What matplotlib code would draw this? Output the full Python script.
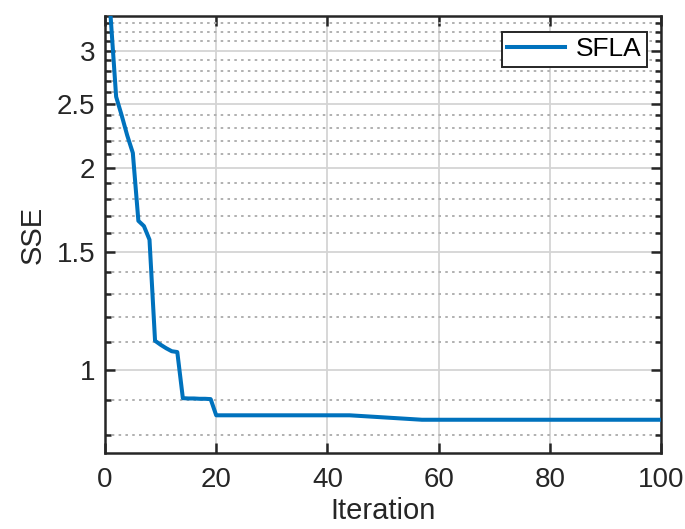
import matplotlib
matplotlib.use("Agg")
import matplotlib.pyplot as plt
from matplotlib.ticker import FixedLocator, FixedFormatter, NullFormatter

iterations = list(range(1, 101))
sse = [3.38, 2.56, 2.40, 2.24, 2.11, 1.67, 1.64, 1.565, 1.105, 1.09,
       1.077, 1.066, 1.063, 0.907, 0.906, 0.906, 0.905, 0.905, 0.904, 0.855,
       0.855, 0.855, 0.855, 0.855, 0.855, 0.855, 0.855, 0.855, 0.855, 0.855,
       0.855, 0.855, 0.855, 0.855, 0.855, 0.855, 0.855, 0.855, 0.855, 0.855,
       0.855, 0.855, 0.855, 0.855, 0.854, 0.853, 0.852, 0.851, 0.850, 0.849,
       0.848, 0.847, 0.846, 0.845, 0.844, 0.843, 0.842, 0.842, 0.842, 0.842,
       0.842, 0.842, 0.842, 0.842, 0.842, 0.842, 0.842, 0.842, 0.842, 0.842,
       0.842, 0.842, 0.842, 0.842, 0.842, 0.842, 0.842, 0.842, 0.842, 0.842,
       0.842, 0.842, 0.842, 0.842, 0.842, 0.842, 0.842, 0.842, 0.842, 0.842,
       0.842, 0.842, 0.842, 0.842, 0.842, 0.842, 0.842, 0.842, 0.842, 0.842]

xticks = [0, 20, 40, 60, 80, 100]
yticks = [1, 1.5, 2, 2.5, 3]
ytick_labels = ["1", "1.5", "2", "2.5", "3"]
yminor = [0.8, 0.9, 1.1, 1.2, 1.3, 1.4, 1.6, 1.7, 1.8, 1.9, 2.1, 2.2, 2.3, 2.4,
          2.6, 2.7, 2.8, 2.9, 3.1, 3.2, 3.3]

plt.rcParams['font.family'] = ['Liberation Sans', 'DejaVu Sans']

fig = plt.figure(figsize=(6.85, 5.29), dpi=100)
ax = fig.add_axes([0.1533, 0.1437, 0.965 - 0.1533, 0.9698 - 0.1437])

ax.set_yscale('log')
ax.plot(iterations, sse, color='#0072BD', lw=2.9, label='SFLA', zorder=3)

ax.set_xlim(0, 100)
ax.set_ylim(0.751, 3.38)

ax.xaxis.set_major_locator(FixedLocator(xticks))
ax.yaxis.set_major_locator(FixedLocator(yticks))
ax.yaxis.set_major_formatter(FixedFormatter(ytick_labels))
ax.yaxis.set_minor_locator(FixedLocator(yminor))
ax.yaxis.set_minor_formatter(NullFormatter())
ax.xaxis.set_minor_locator(FixedLocator([]))

ax.grid(True, which='major', color='#d4d4d4', lw=1.3, ls='-', zorder=0)
ax.grid(True, which='minor', axis='y', color='#b0b0b0', lw=1.4, ls=(0, (1.3, 2.2)), zorder=0)

axc = '#262626'
for s in ax.spines.values():
    s.set_color(axc)
    s.set_linewidth(1.8)

ax.tick_params(which='both', direction='in', top=True, right=True, colors=axc,
               labelcolor='#262626', labelsize=20)
ax.tick_params(which='major', length=7, width=1.8)
ax.tick_params(which='minor', length=4, width=1.8)
ax.tick_params(axis='x', pad=10)
ax.tick_params(axis='y', pad=7)

ax.set_xlabel('Iteration', fontsize=21, color='#262626', labelpad=3)
ax.set_ylabel('SSE', fontsize=21, color='#262626', labelpad=7)

leg = ax.legend(loc='upper right', fontsize=19, frameon=True, fancybox=False,
                handlelength=2.2, borderpad=0.2, handletextpad=0.4,
                bbox_to_anchor=(0.974, 0.963), borderaxespad=0)
leg.get_frame().set_edgecolor(axc)
leg.get_frame().set_linewidth(1.4)
leg.get_frame().set_alpha(1)
for t in leg.get_texts():
    t.set_color('black')

fig.savefig('out.png', dpi=100)
